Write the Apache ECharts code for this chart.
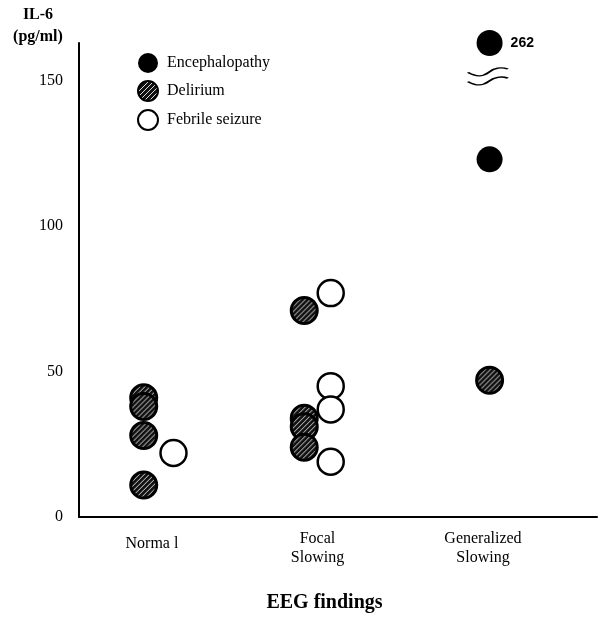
<!DOCTYPE html>
<html><head><meta charset="utf-8">
<script src="https://cdn.jsdelivr.net/npm/echarts@6/dist/echarts.min.js"></script>
<style>html,body{margin:0;padding:0;background:#fff}#c{width:600px;height:618px}</style>
</head><body><div id="c"></div>
<script>
// ---- data ----
const categories = ['Norma l', 'Focal\nSlowing', 'Generalized\nSlowing'];
const yTicks = [0, 50, 100, 150];
const seriesNames = ['Encephalopathy', 'Delirium', 'Febrile seizure'];
// points: [x in category units (0 = Normal, 1 = Focal, 2 = Generalized), IL-6 pg/ml]
const encephalopathy = [[2.04, 262], [2.04, 123]];
const delirium = [[-0.05, 41], [-0.05, 38], [-0.05, 28], [-0.05, 11],
                  [0.92, 71], [0.92, 34], [0.92, 31], [0.92, 24],
                  [2.04, 47]];
const febrileSeizure = [[0.13, 22], [1.08, 77], [1.08, 45], [1.08, 37], [1.08, 19]];
const axisBreak = { start: 155, end: 260 };

// ---- chart ----
const serif = '"Liberation Serif", "Times New Roman", serif';
const SYMBOL = 26;
function hatch() {
  const c = document.createElement('canvas');
  c.width = 5; c.height = 5;
  const g = c.getContext('2d');
  g.fillStyle = '#111'; g.fillRect(0, 0, 5, 5);
  g.strokeStyle = 'rgba(255,255,255,0.85)'; g.lineWidth = 1;
  g.beginPath(); g.moveTo(-1, 6); g.lineTo(6, -1); g.stroke();
  return c;
}
// scatter symbols are drawn as a unit shape scaled by size/2, so shrink the pattern to match
const hatchSeries = { image: hatch(), repeat: 'repeat', scaleX: 2 / SYMBOL, scaleY: 2 / SYMBOL };
const hatchLegend = { image: hatch(), repeat: 'repeat' };
const wave = 'path://M0,5 C8,9 14,9 20,5 C26,1 32,0 39,2 M0,13 C8,17 14,17 20,13 C26,9 32,8 39,10';

const chart = echarts.init(document.getElementById('c'), null, { renderer: 'canvas' });
chart.setOption({
  animation: false,
  backgroundColor: '#fff',
  grid: { left: 79, right: 3, top: 43, bottom: 100 },
  legend: {
    orient: 'vertical', left: 132, top: 48, itemWidth: 28, itemHeight: 20, itemGap: 7,
    data: [
      { name: seriesNames[0] },
      { name: seriesNames[1], itemStyle: { color: hatchLegend, borderColor: '#000', borderWidth: 2 } },
      { name: seriesNames[2] }
    ],
    textStyle: { fontFamily: serif, fontSize: 16, color: '#000' }
  },
  xAxis: {
    type: 'value', min: -0.441, max: 2.689,
    splitLine: { show: false },
    axisLine: { onZero: false, lineStyle: { color: '#000', width: 2 } },
    axisTick: { show: false },
    axisLabel: {
      customValues: [0, 1, 2],
      formatter: v => {
        const t = categories[Math.round(v)];
        return t.indexOf('\n') < 0 ? '{one|' + t + '}' : t;
      },
      rich: { one: { fontFamily: serif, fontSize: 16, color: '#000', padding: [10, 0, 0, 0] } },
      fontFamily: serif, fontSize: 16, color: '#000', lineHeight: 19, margin: 12
    },
    name: 'EEG findings', nameLocation: 'middle', nameGap: 76,
    nameTextStyle: { fontFamily: serif, fontSize: 20, fontWeight: 'bold', color: '#000', padding: [0, 27, 0, 0] }
  },
  yAxis: [{
    type: 'value', min: 0, max: 262,
    breaks: [{ start: axisBreak.start, end: axisBreak.end, gap: 6 }],
    breakArea: { show: false },
    splitLine: { show: false },
    axisLine: { show: false, onZero: false },
    axisTick: { show: false },
    axisLabel: { customValues: yTicks, fontFamily: serif, fontSize: 16, color: '#000', margin: 16 },
    name: 'IL-6\n(pg/ml)', nameLocation: 'end', nameGap: -5,
    nameTextStyle: {
      fontFamily: serif, fontSize: 16, fontWeight: 'bold', color: '#000',
      align: 'center', verticalAlign: 'bottom', lineHeight: 22, padding: [0, 82, 0, 0]
    }
  }, {
    // plain axis line (no break gap), same extent as the plot area
    type: 'value', position: 'left', min: 0, max: 1,
    splitLine: { show: false },
    axisLine: { show: true, onZero: false, lineStyle: { color: '#000', width: 2 } },
    axisTick: { show: false },
    axisLabel: { show: false }
  }],
  series: [
    {
      name: 'Encephalopathy', type: 'scatter', data: encephalopathy, symbolSize: SYMBOL, clip: false,
      itemStyle: { color: '#000', opacity: 1 },
      label: {
        show: true, position: 'right', distance: 8,
        formatter: p => (p.value[1] > axisBreak.start ? String(p.value[1]) : ''),
        fontFamily: '"Liberation Sans", Arial, sans-serif', fontSize: 14, fontWeight: 'bold', color: '#000'
      },
      markPoint: {
        silent: true,
        data: [{ coord: [2.03, 151.5], symbol: wave, symbolSize: [40, 17],
                 itemStyle: { color: 'rgba(0,0,0,0)', borderColor: '#000', borderWidth: 2, opacity: 1 },
                 label: { show: false } }]
      }
    },
    {
      name: 'Delirium', type: 'scatter', data: delirium, symbolSize: SYMBOL, clip: false,
      itemStyle: { color: hatchSeries, borderColor: '#000', borderWidth: 3, opacity: 1 }
    },
    {
      name: 'Febrile seizure', type: 'scatter', data: febrileSeizure, symbolSize: SYMBOL, clip: false,
      itemStyle: { color: '#fff', borderColor: '#000', borderWidth: 2.5, opacity: 1 }
    }
  ]
});
</script>
</body></html>
